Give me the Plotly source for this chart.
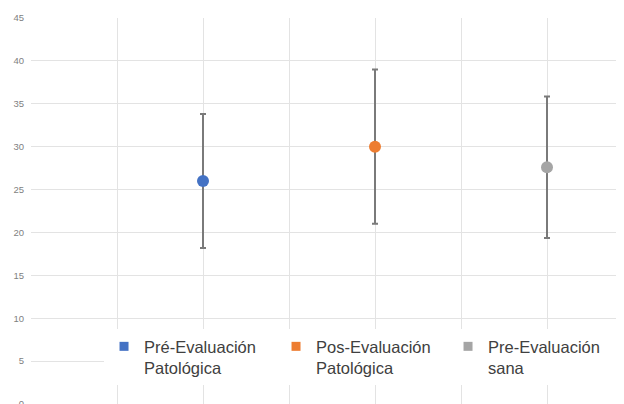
import plotly.graph_objects as go

series_names = ["Pré-Evaluación<br>Patológica", "Pos-Evaluación<br>Patológica", "Pre-Evaluación<br>sana"]
x_positions = [2, 4, 6]
means = [26.0, 30.0, 27.6]
errors = [7.8, 9.0, 8.25]
colors = ["#4472C4", "#ED7D31", "#A5A5A5"]
y_ticks = [0, 5, 10, 15, 20, 25, 30, 35, 40, 45]

fig = go.Figure()
for name, xv, m, e, c in zip(series_names, x_positions, means, errors, colors):
    fig.add_trace(go.Scatter(
        x=[xv], y=[m], mode="markers",
        marker=dict(size=12, color=c),
        error_y=dict(type="data", array=[e], visible=True, color="#7a7a7a", thickness=2, width=3),
        showlegend=False,
    ))
for name, c in zip(series_names, colors):
    fig.add_trace(go.Scatter(
        x=[None], y=[None], mode="markers", name=name,
        marker=dict(size=9, color=c, symbol="square"),
    ))

# page body has an 8px margin, so the figure sits 8px right and down
plot_w = 624 - 23
fig.update_layout(
    width=624, height=404,
    margin=dict(l=23, r=0, t=10, b=8),
    paper_bgcolor="white", plot_bgcolor="white",
    font=dict(family="Liberation Sans, Arial, sans-serif"),
    xaxis=dict(range=[0, plot_w / 86], dtick=1, tick0=0, showticklabels=False,
               showgrid=True, gridcolor="#e3e3e3", gridwidth=1, zeroline=False,
               showline=False, ticks="", automargin=False),
    yaxis=dict(range=[0, 45], tickvals=y_ticks, showgrid=True, gridcolor="#e3e3e3",
               gridwidth=1, zeroline=False, showline=False, ticks="", automargin=False,
               ticklabelstandoff=6,
               tickfont=dict(size=9.5, color="#7f7f7f")),
    legend=dict(orientation="h", x=0.1215, xanchor="left", y=0.194, yanchor="top",
                bgcolor="white", valign="top", entrywidth=127, entrywidthmode="pixels",
                font=dict(size=16.5, color="#404040"), itemclick=False),
)
fig.write_html("out.html")
